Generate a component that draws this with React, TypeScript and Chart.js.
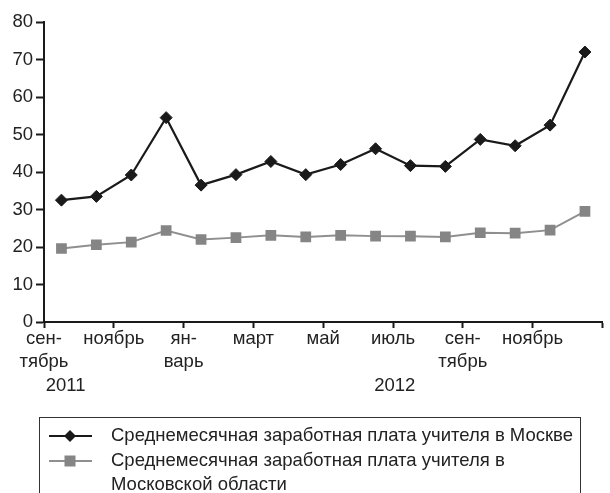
import React, { useEffect, useRef } from "react";
import { Chart, registerables } from "chart.js";

Chart.register(...registerables);

const MONTHS = ["сен", "окт", "ноя", "дек", "янв", "фев", "мар", "апр", "май", "июн", "июл", "авг", "сен", "окт", "ноя", "дек"];
const TICK_LABELS: (string | string[])[] = [
  ["сен-", "тябрь"],
  "ноябрь",
  ["ян-", "варь"],
  "март",
  "май",
  "июль",
  ["сен-", "тябрь"],
  "ноябрь",
  "",
];
const YEARS = ["2011", "2012"];
const MOSCOW = [32.5, 33.5, 39.2, 54.5, 36.5, 39.3, 42.8, 39.3, 42.0, 46.2, 41.7, 41.5, 48.7, 47.0, 52.5, 72.0];
const REGION = [19.6, 20.6, 21.3, 24.4, 22.0, 22.5, 23.1, 22.7, 23.1, 22.9, 22.9, 22.7, 23.8, 23.7, 24.5, 29.5];
const SERIES_NAMES = [
  ["Среднемесячная заработная плата учителя в Москве"],
  ["Среднемесячная заработная плата учителя в", "Московской области"],
];

const FONT = '"Liberation Sans", Arial, sans-serif';
const FS = 18.5;
const BLACK = "#1a1a1a";
const GREY_LINE = "#8f8f8f";
const GREY_MARK = "#858585";

export default function App() {
  const ref = useRef<HTMLCanvasElement | null>(null);

  useEffect(() => {
    if (!ref.current) return;
    const yearPos = [0.62, 10.05];

    const extras = {
      id: "extras",
      afterDraw(chart: any) {
        const ctx = chart.ctx;
        const xs = chart.scales.x;
        ctx.save();
        ctx.font = `${FS}px ${FONT}`;
        ctx.fillStyle = "#222";
        ctx.textAlign = "center";
        ctx.textBaseline = "middle";
        YEARS.forEach((y, i) => {
          ctx.fillText(y, xs.getPixelForValue(yearPos[i]), 386);
        });
        // legend box
        ctx.strokeStyle = "#333";
        ctx.lineWidth = 1;
        ctx.strokeRect(39.5, 417.5, 541, 100);
        const rows = [436, 461];
        const styles = [
          { line: BLACK, mark: BLACK, w: 2.2, shape: "diamond" },
          { line: GREY_LINE, mark: GREY_MARK, w: 2, shape: "square" },
        ];
        ctx.textAlign = "left";
        SERIES_NAMES.forEach((lines, i) => {
          const y = rows[i];
          const s = styles[i];
          ctx.strokeStyle = s.line;
          ctx.lineWidth = s.w;
          ctx.beginPath();
          ctx.moveTo(49, y);
          ctx.lineTo(92, y);
          ctx.stroke();
          ctx.fillStyle = s.mark;
          ctx.beginPath();
          if (s.shape === "diamond") {
            ctx.moveTo(70, y - 6);
            ctx.lineTo(76, y);
            ctx.lineTo(70, y + 6);
            ctx.lineTo(64, y);
          } else {
            ctx.rect(64.5, y - 5.5, 11, 11);
          }
          ctx.closePath();
          ctx.fill();
          ctx.fillStyle = "#222";
          lines.forEach((t, j) => ctx.fillText(t, 111, y + j * 24));
        });
        ctx.restore();
      },
    };

    const chart = new Chart(ref.current, {
      type: "line",
      data: {
        labels: MONTHS,
        datasets: [
          {
            label: SERIES_NAMES[0].join(" "),
            data: MOSCOW.map((v, i) => ({ x: i + 0.5, y: v })),
            borderColor: BLACK,
            backgroundColor: BLACK,
            borderWidth: 2.2,
            pointStyle: "rectRot",
            pointRadius: 6,
            pointBorderWidth: 1,
            tension: 0,
          },
          {
            label: SERIES_NAMES[1].join(" "),
            data: REGION.map((v, i) => ({ x: i + 0.5, y: v })),
            borderColor: GREY_LINE,
            backgroundColor: GREY_MARK,
            pointBorderColor: GREY_MARK,
            borderWidth: 2,
            pointStyle: "rect",
            pointRadius: 7.6,
            pointBorderWidth: 0,
            tension: 0,
          },
        ],
      },
      options: {
        responsive: false,
        animation: false,
        devicePixelRatio: 1,
        layout: { padding: { top: 22, right: 1, left: 0, bottom: 0 } },
        plugins: { legend: { display: false }, tooltip: { enabled: false } },
        scales: {
          x: {
            type: "linear",
            min: 0,
            max: 16,
            afterFit: (s: any) => {
              s.height = 171;
            },
            afterBuildTicks: (s: any) => {
              s.ticks = [0, 2, 4, 6, 8, 10, 12, 14, 16].map((v) => ({ value: v }));
            },
            ticks: {
              autoSkip: false,
              maxRotation: 0,
              padding: 0,
              color: "#222",
              font: { family: FONT, size: FS, lineHeight: 1.22 },
              callback: (v: any) => TICK_LABELS[Math.round(Number(v) / 2)] ?? "",
            },
            grid: { display: true, drawOnChartArea: false, tickLength: 6, tickColor: BLACK, tickWidth: 2 },
            border: { display: true, color: BLACK, width: 2 },
          },
          y: {
            min: 0,
            max: 80,
            afterFit: (s: any) => {
              s.width = 44;
            },
            ticks: {
              stepSize: 10,
              padding: 3,
              color: "#222",
              font: { family: FONT, size: FS },
            },
            grid: { display: true, drawOnChartArea: false, tickLength: 8, tickColor: BLACK, tickWidth: 2 },
            border: { display: true, color: BLACK, width: 2 },
          },
        },
      },
      plugins: [extras],
    });
    return () => chart.destroy();
  }, []);

  return (
    <div style={{ position: "absolute", left: 0, top: 0, width: 610, height: 493, background: "#fff" }}>
      <canvas ref={ref} width={610} height={493} style={{ display: "block" }} />
    </div>
  );
}
